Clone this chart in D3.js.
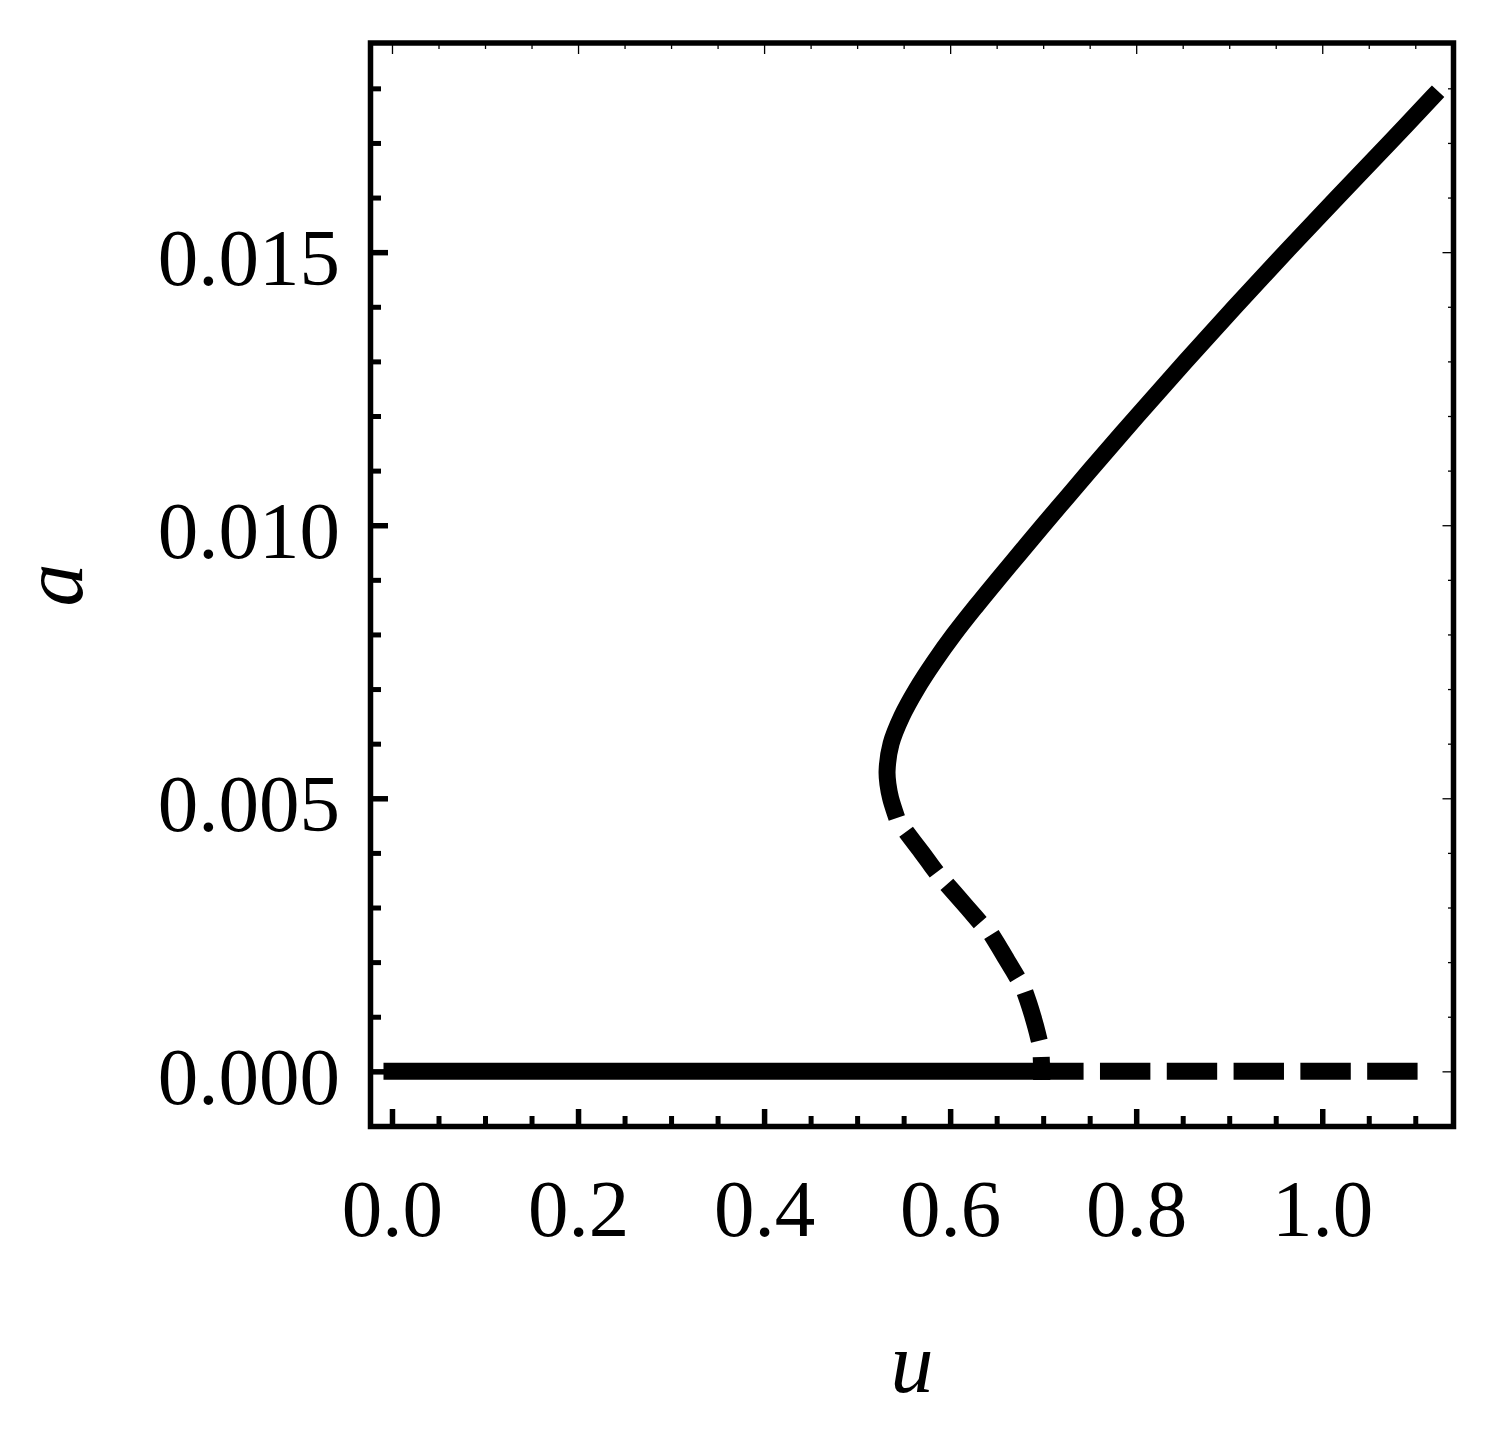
<!DOCTYPE html>
<html>
<head>
<meta charset="utf-8">
<script src="https://cdn.jsdelivr.net/npm/d3@7"></script>
<style>
  html, body { margin: 0; padding: 0; background: #fff; }
  svg { display: block; }
  text { font-family: "Liberation Serif", "Times New Roman", serif; fill: #000; }
</style>
</head>
<body>
<svg id="chart" width="1493" height="1431"></svg>
<script>
// ---------------- data ----------------
// lower branch a = 0 : stable (solid) up to the bifurcation, unstable (dashed) beyond
const lowerSolidU = [0.0, 0.6984];
const lowerSolidA = [0.0, 0.0];
const lowerDashedU = [0.6984, 1.1183];
const lowerDashedA = [0.0, 0.0];

// upper branch, unstable part (dashed), listed from the solid/dashed junction down to a = 0
const upperDashedU = [0.5398, 0.5522, 0.5699, 0.5844, 0.5969, 0.6183, 0.6321, 0.6436, 0.6595, 0.6726, 0.6801, 0.6890, 0.6955, 0.6978, 0.6984];
const upperDashedA = [0.004786, 0.004407, 0.004000, 0.003668, 0.003418, 0.003000, 0.002729, 0.002515, 0.002080, 0.001703, 0.001452, 0.001000, 0.000568, 0.000250, 0.0];

// upper branch, stable part (solid), listed from the junction up to the end
const upperSolidU = [0.5398, 0.5360, 0.5332, 0.5322, 0.5365, 0.5480, 0.5640, 0.5830, 0.6040, 0.6270, 0.6510, 0.6755, 0.7000, 0.7250, 0.7500, 0.8010, 0.8530, 0.9062, 0.9605, 1.0160, 1.0722, 1.1183];
const upperSolidA = [0.004786, 0.005000, 0.005250, 0.005500, 0.006000, 0.006500, 0.007000, 0.007500, 0.008000, 0.008500, 0.009000, 0.009500, 0.010000, 0.010500, 0.011000, 0.012000, 0.013000, 0.014000, 0.015000, 0.016000, 0.017000, 0.017833];

// ticks
const xMajorTicks = [0.0, 0.2, 0.4, 0.6, 0.8, 1.0];
const xTickLabels = ["0.0", "0.2", "0.4", "0.6", "0.8", "1.0"];
const xMinorTicks = [0.05, 0.1, 0.15, 0.25, 0.3, 0.35, 0.45, 0.5, 0.55, 0.65, 0.7, 0.75, 0.85, 0.9, 0.95, 1.05, 1.1];
const yMajorTicks = [0.000, 0.005, 0.010, 0.015];
const yTickLabels = ["0.000", "0.005", "0.010", "0.015"];
const yMinorTicks = [0.001, 0.002, 0.003, 0.004, 0.006, 0.007, 0.008, 0.009, 0.011, 0.012, 0.013, 0.014, 0.016, 0.017, 0.018];

// ---------------- layout ----------------
const svg = d3.select("#chart");
const L = 370.5, R = 1453.5, T = 43, B = 1126.5;
const x = d3.scaleLinear().domain([-0.0231, 1.1411]).range([L, R]);
const y = d3.scaleLinear().domain([-0.00101, 0.01883]).range([B, T]);

const FS = 81;
const FF = "Liberation Serif, Times New Roman, serif";

// bottom axis (thick inward ticks with labels)
const gB = svg.append("g").attr("transform", `translate(0,${B})`);
gB.call(d3.axisBottom(x).tickValues(xMajorTicks)
  .tickFormat((d, i) => xTickLabels[i]).tickSizeInner(-17.5).tickSizeOuter(0).tickPadding(51.5));
gB.call(g => g.select(".domain").remove());
gB.selectAll(".tick line").attr("stroke", "#000").attr("stroke-width", 5.5);
gB.selectAll(".tick text").attr("font-size", FS).attr("font-family", FF);
const gBm = svg.append("g").attr("transform", `translate(0,${B})`);
gBm.call(d3.axisBottom(x).tickValues(xMinorTicks).tickFormat("").tickSizeInner(-10.5).tickSizeOuter(0));
gBm.call(g => g.select(".domain").remove());
gBm.selectAll(".tick line").attr("stroke", "#000").attr("stroke-width", 5);

// top axis (thin inward ticks)
const gT = svg.append("g").attr("transform", `translate(0,${T})`);
gT.call(d3.axisTop(x).tickValues(xMajorTicks).tickFormat("").tickSizeInner(-11).tickSizeOuter(0));
gT.call(g => g.select(".domain").remove());
gT.selectAll(".tick line").attr("stroke", "#000").attr("stroke-width", 1.3);
const gTm = svg.append("g").attr("transform", `translate(0,${T})`);
gTm.call(d3.axisTop(x).tickValues(xMinorTicks).tickFormat("").tickSizeInner(-6).tickSizeOuter(0));
gTm.call(g => g.select(".domain").remove());
gTm.selectAll(".tick line").attr("stroke", "#000").attr("stroke-width", 1.3);

// left axis (thick inward ticks with labels)
const gL = svg.append("g").attr("transform", `translate(${L},0)`);
gL.call(d3.axisLeft(y).tickValues(yMajorTicks)
  .tickFormat((d, i) => yTickLabels[i]).tickSizeInner(-17.5).tickSizeOuter(0).tickPadding(30.5));
gL.call(g => g.select(".domain").remove());
gL.selectAll(".tick line").attr("stroke", "#000").attr("stroke-width", 5.5);
gL.selectAll(".tick text").attr("font-size", FS).attr("dy", "0.40em").attr("font-family", FF);
const gLm = svg.append("g").attr("transform", `translate(${L},0)`);
gLm.call(d3.axisLeft(y).tickValues(yMinorTicks).tickFormat("").tickSizeInner(-10.5).tickSizeOuter(0));
gLm.call(g => g.select(".domain").remove());
gLm.selectAll(".tick line").attr("stroke", "#000").attr("stroke-width", 5);

// right axis (thin inward ticks)
const gR = svg.append("g").attr("transform", `translate(${R},0)`);
gR.call(d3.axisRight(y).tickValues(yMajorTicks).tickFormat("").tickSizeInner(-11).tickSizeOuter(0));
gR.call(g => g.select(".domain").remove());
gR.selectAll(".tick line").attr("stroke", "#000").attr("stroke-width", 1.3);
const gRm = svg.append("g").attr("transform", `translate(${R},0)`);
gRm.call(d3.axisRight(y).tickValues(yMinorTicks).tickFormat("").tickSizeInner(-5.5).tickSizeOuter(0));
gRm.call(g => g.select(".domain").remove());
gRm.selectAll(".tick line").attr("stroke", "#000").attr("stroke-width", 1.3);

// ---------------- curves ----------------
const line = d3.line().x(d => x(d[0])).y(d => y(d[1])).curve(d3.curveCatmullRom.alpha(0.5));
const zipUA = (U, A) => U.map((u, i) => [u, A[i]]);
const LW = 17;
const DASH = "33.4 33.4";

const curves = svg.append("g").attr("fill", "none").attr("stroke", "#000").attr("stroke-width", LW);

curves.append("path").attr("d", line(zipUA(lowerSolidU, lowerSolidA)))
  .attr("stroke-linecap", "square");
curves.append("path").attr("d", line(zipUA(lowerDashedU, lowerDashedA)))
  .attr("stroke-linecap", "square").attr("stroke-dasharray", DASH);
curves.append("path").attr("d", line(zipUA(upperDashedU, upperDashedA)))
  .attr("stroke-linecap", "square").attr("stroke-dasharray", DASH).attr("stroke-dashoffset", 33.4);
curves.append("path").attr("d", line(zipUA(upperSolidU, upperSolidA)))
  .attr("stroke-linecap", "square");

// ---------------- frame ----------------
svg.append("rect").attr("x", L).attr("y", T).attr("width", R - L).attr("height", B - T)
  .attr("fill", "none").attr("stroke", "#000").attr("stroke-width", 5.5);

// ---------------- axis titles ----------------
svg.append("text").attr("x", 912).attr("y", 1392).attr("text-anchor", "middle")
  .attr("font-size", 86).attr("font-style", "italic").text("u");
svg.append("text").attr("transform", "translate(82,585) rotate(-90)").attr("text-anchor", "middle")
  .attr("font-size", 86).attr("font-style", "italic").text("a");
</script>
</body>
</html>
